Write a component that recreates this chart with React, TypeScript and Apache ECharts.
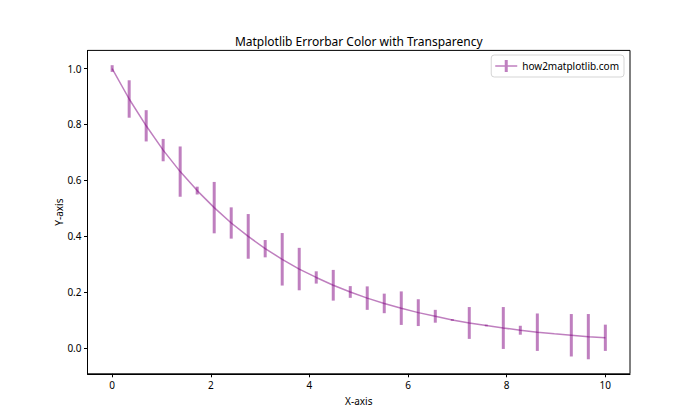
import React, { useEffect, useRef } from "react";
import * as echarts from "echarts";

const xValues = [
  0, 0.345, 0.69, 1.034, 1.379, 1.724, 2.069, 2.414, 2.759, 3.103,
  3.448, 3.793, 4.138, 4.483, 4.828, 5.172, 5.517, 5.862, 6.207, 6.552,
  6.897, 7.241, 7.586, 7.931, 8.276, 8.621, 8.966, 9.31, 9.655, 10,
];
const yValues = [
  1.0, 0.891, 0.795, 0.708, 0.631, 0.563, 0.502, 0.447, 0.399, 0.355,
  0.317, 0.282, 0.252, 0.224, 0.2, 0.178, 0.159, 0.142, 0.126, 0.113,
  0.1, 0.089, 0.08, 0.071, 0.063, 0.056, 0.05, 0.045, 0.04, 0.036,
];
const yErrors = [
  0.012, 0.067, 0.056, 0.04, 0.09, 0.014, 0.092, 0.056, 0.08, 0.031,
  0.094, 0.076, 0.022, 0.055, 0.021, 0.042, 0.035, 0.06, 0.048, 0.023,
  0.003, 0.057, 0.003, 0.075, 0.016, 0.067, 0.0, 0.076, 0.081, 0.047,
];
const xTicks = [0, 2, 4, 6, 8, 10];
const yTicks = [0, 0.2, 0.4, 0.6, 0.8, 1.0];

const FONT = "'Noto Sans', 'DejaVu Sans', sans-serif";
const COLOR = "rgba(128,0,128,0.5)";

export default function App() {
  const ref = useRef<HTMLDivElement>(null);
  useEffect(() => {
    if (!ref.current) return;
    const chart = echarts.init(ref.current, null, { renderer: "svg" });
    const lineData = xValues.map((x, i) => [x, yValues[i]]);
    const errData = xValues.map((x, i) => [x, yValues[i], yErrors[i]]);
    chart.setOption({
      animation: false,
      backgroundColor: "#fff",
      textStyle: { fontFamily: FONT },
      graphic: [
        {
          type: "text",
          x: 358.75,
          y: 41,
          style: {
            text: "Matplotlib Errorbar Color with Transparency",
            fontSize: 12,
            fontFamily: FONT,
            fill: "#000",
            align: "center",
            verticalAlign: "middle",
          },
        },
      ],
      grid: {
        left: 87.5,
        right: 70,
        top: 50.4,
        bottom: 46.2,
        show: true,
        borderColor: "#000",
        borderWidth: 1,
        backgroundColor: "transparent",
      },
      legend: {
        right: 76,
        top: 55,
        padding: [5, 5, 5, 4],
        borderColor: "#d5d5d5",
        borderWidth: 1,
        borderRadius: 3,
        backgroundColor: "#fff",
        itemWidth: 22,
        itemHeight: 12,
        itemGap: 6,
        textStyle: { fontSize: 10, fontFamily: FONT, color: "#000" },
        data: [
          {
            name: "how2matplotlib.com",
            icon: "path://M0,5.3 H22 V6.7 H0 Z M9.5,0 H12.5 V12 H9.5 Z",
          },
        ],
      },
      xAxis: {
        type: "value",
        min: -0.5,
        max: 10.5,
        name: "X-axis",
        nameLocation: "middle",
        nameGap: 22,
        nameMoveOverlap: false,
        nameTextStyle: { fontSize: 10, color: "#000", fontFamily: FONT },
        axisLine: { show: true, onZero: false, lineStyle: { color: "#000", width: 1 } },
        axisTick: {
          show: true,
          length: 3.5,
          customValues: xTicks,
          lineStyle: { color: "#000", width: 1 },
        },
        axisLabel: {
          customValues: xTicks,
          fontSize: 10,
          color: "#000",
          margin: 6,
          fontFamily: FONT,
        },
        splitLine: { show: false },
      },
      yAxis: {
        type: "value",
        min: -0.093,
        max: 1.065,
        name: "Y-axis",
        nameLocation: "middle",
        nameGap: 24,
        nameMoveOverlap: false,
        nameTextStyle: { fontSize: 10, color: "#000", fontFamily: FONT },
        axisLine: { show: true, onZero: false, lineStyle: { color: "#000", width: 1 } },
        axisTick: {
          show: true,
          length: 3.5,
          customValues: yTicks,
          lineStyle: { color: "#000", width: 1 },
        },
        axisLabel: {
          customValues: yTicks,
          fontSize: 10,
          color: "#000",
          margin: 6,
          fontFamily: FONT,
          formatter: (v: number) => v.toFixed(1),
        },
        splitLine: { show: false },
      },
      series: [
        {
          name: "how2matplotlib.com",
          type: "line",
          data: lineData,
          showSymbol: false,
          symbol: "none",
          lineStyle: { color: COLOR, width: 1.5 },
          itemStyle: { color: COLOR },
          z: 3,
        },
        {
          name: "errors",
          type: "custom",
          data: errData,
          encode: { x: 0, y: 1 },
          renderItem: (params: any, api: any) => {
            const x = api.value(0);
            const y = api.value(1);
            const e = api.value(2);
            const p1 = api.coord([x, y - e]);
            const p2 = api.coord([x, y + e]);
            return {
              type: "line",
              shape: { x1: p1[0], y1: p1[1], x2: p2[0], y2: p2[1] },
              style: { stroke: COLOR, lineWidth: 3, lineCap: "butt" },
            };
          },
          z: 2,
        },
      ],
    });
    return () => chart.dispose();
  }, []);
  return (
    <div
      ref={ref}
      style={{ position: "fixed", left: 0, top: 0, width: 700, height: 420 }}
    />
  );
}
